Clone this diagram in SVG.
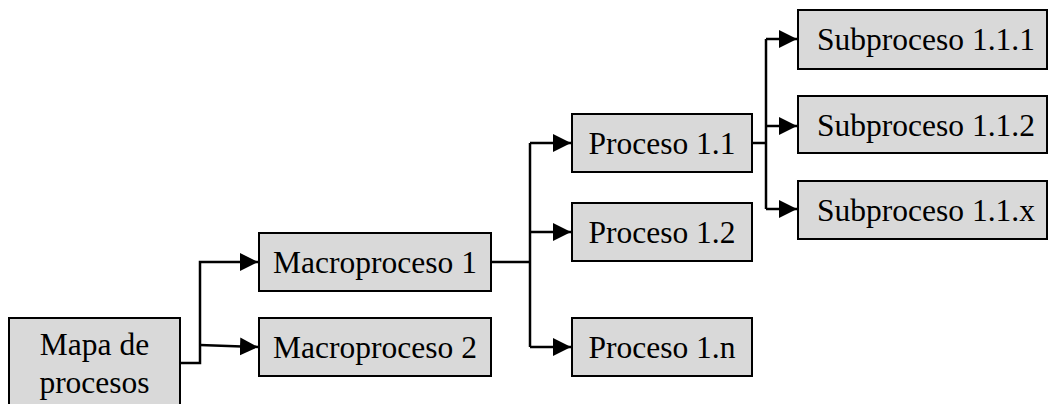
<svg xmlns="http://www.w3.org/2000/svg" width="1049" height="404" viewBox="0 0 1049 404">
<style>
.box{fill:#d9d9d9;stroke:#000;stroke-width:2}
.t{font-family:"Liberation Serif","Times New Roman",serif;font-size:31.5px;fill:#000;text-anchor:middle}
.c{fill:none;stroke:#000;stroke-width:2.5}
</style>
<defs>
<marker id="ah" markerUnits="userSpaceOnUse" markerWidth="19" markerHeight="19" refX="18" refY="9" orient="auto" viewBox="0 0 19 18">
<path d="M0,0 L18,9 L0,18 z" fill="#000"/>
</marker>
</defs>
<rect width="1049" height="404" fill="#fff"/>
<g id="connectors">
<path class="c" d="M180,363 H200 V262 H258" marker-end="url(#ah)"/>
<path class="c" d="M200,345 L258,347" marker-end="url(#ah)"/>
<path class="c" d="M491,262 H530"/>
<path class="c" d="M530,143 V347"/>
<path class="c" d="M530,143 H571" marker-end="url(#ah)"/>
<path class="c" d="M530,232 H571" marker-end="url(#ah)"/>
<path class="c" d="M530,347 H571" marker-end="url(#ah)"/>
<path class="c" d="M752,143 H766"/>
<path class="c" d="M766,39 V209"/>
<path class="c" d="M766,39 H797" marker-end="url(#ah)"/>
<path class="c" d="M766,126 H797" marker-end="url(#ah)"/>
<path class="c" d="M766,209 H797" marker-end="url(#ah)"/>
</g>
<g id="mapa">
<rect class="box" x="9" y="318" width="171" height="100"/>
<text class="t" x="94.5" y="355">Mapa de</text>
<text class="t" x="94.5" y="393">procesos</text>
</g>
<g id="macro1">
<rect class="box" x="259" y="233" width="232" height="58"/>
<text class="t" x="375" y="273">Macroproceso 1</text>
</g>
<g id="macro2">
<rect class="box" x="259" y="318" width="232" height="58"/>
<text class="t" x="375" y="358">Macroproceso 2</text>
</g>
<g id="p11">
<rect class="box" x="572" y="114" width="180" height="58"/>
<text class="t" x="662" y="154">Proceso 1.1</text>
</g>
<g id="p12">
<rect class="box" x="572" y="203" width="180" height="58"/>
<text class="t" x="662" y="243">Proceso 1.2</text>
</g>
<g id="p1n">
<rect class="box" x="572" y="318" width="180" height="58"/>
<text class="t" x="662" y="358">Proceso 1.n</text>
</g>
<g id="s111">
<rect class="box" x="798" y="10" width="249" height="59"/>
<text class="t" x="926" y="50">Subproceso 1.1.1</text>
</g>
<g id="s112">
<rect class="box" x="798" y="96" width="249" height="57"/>
<text class="t" x="926" y="136">Subproceso 1.1.2</text>
</g>
<g id="s11x">
<rect class="box" x="798" y="181" width="249" height="58"/>
<text class="t" x="926" y="221">Subproceso 1.1.x</text>
</g>
</svg>
